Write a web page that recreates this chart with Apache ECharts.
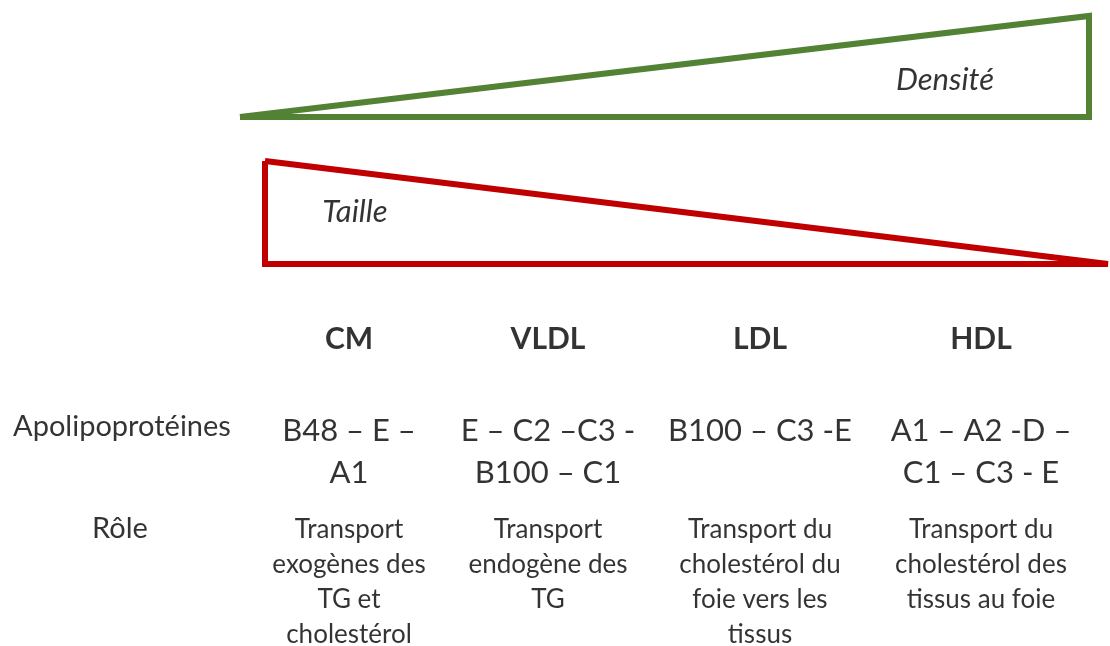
<!DOCTYPE html>
<html>
<head>
<meta charset="utf-8">
<script src="https://cdn.jsdelivr.net/npm/echarts@6/dist/echarts.min.js"></script>
<style>
  html, body { margin: 0; padding: 0; background: #fff; }
  #chart { width: 1110px; height: 646px; }
</style>
</head>
<body>
<div id="chart"></div>
<script>
// lipoprotein classes and their rows
const classes = ['CM', 'VLDL', 'LDL', 'HDL']
const apolipoproteins = [
  'B48 – E –\nA1',
  'E – C2 –C3 -\nB100 – C1',
  'B100 – C3 -E',
  'A1 – A2 -D –\nC1 – C3 - E'
]
const roles = [
  'Transport\nexogènes des\nTG et\ncholestérol',
  'Transport\nendogène des\nTG',
  'Transport du\ncholestérol du\nfoie vers les\ntissus',
  'Transport du\ncholestérol des\ntissus au foie'
]
const rowLabels = ['Apolipoprotéines', 'Rôle']
const trendLabels = ['Densité', 'Taille']

// layout (pixel-like axis units)
const colX = [349, 548, 760, 981]
const FONT = 'Lato, "Open Sans", "Noto Sans", sans-serif'

const densityShape = [[240, 117], [1089, 16], [1089, 117], [240, 117]]
const sizeShape = [[265, 161], [265, 264], [1108, 264], [265, 161]]

function textSeries (points, style) {
  return {
    type: 'scatter',
    symbolSize: 0,
    silent: true,
    data: points.map(p => ({ value: [p[0], p[1]], label: { formatter: p[2] } })),
    label: Object.assign({
      show: true,
      position: 'inside',
      color: '#000',
      fontFamily: FONT,
      align: 'center',
      verticalAlign: 'top'
    }, style)
  }
}

const chart = echarts.init(document.getElementById('chart'))
chart.setOption({
  animation: false,
  grid: { left: 0, right: 0, top: 0, bottom: 0 },
  xAxis: { type: 'value', min: 0, max: 1110, show: false },
  yAxis: { type: 'value', min: 0, max: 646, inverse: true, show: false },
  series: [
    {
      type: 'line', data: densityShape, symbol: 'none', silent: true,
      lineStyle: { color: '#548235', width: 6, join: 'miter', miterLimit: 3 }
    },
    {
      type: 'line', data: sizeShape, symbol: 'none', silent: true,
      lineStyle: { color: '#C00000', width: 6, join: 'miter', miterLimit: 3 }
    },
    textSeries([[945, 60, trendLabels[0]], [355, 192, trendLabels[1]]],
      { fontSize: 31, fontStyle: 'italic', lineHeight: 40 }),
    textSeries(classes.map((c, i) => [colX[i], 321, c]),
      { fontSize: 30, fontWeight: 'bold', lineHeight: 36 }),
    textSeries(apolipoproteins.map((a, i) => [colX[i], 410, a]),
      { fontSize: 31, lineHeight: 42 }),
    textSeries(roles.map((r, i) => [colX[i], 512, r]),
      { fontSize: 26, lineHeight: 35 }),
    textSeries([[122, 409, rowLabels[0]], [120, 511, rowLabels[1]]],
      { fontSize: 29, lineHeight: 36 })
  ]
})
</script>
</body>
</html>
